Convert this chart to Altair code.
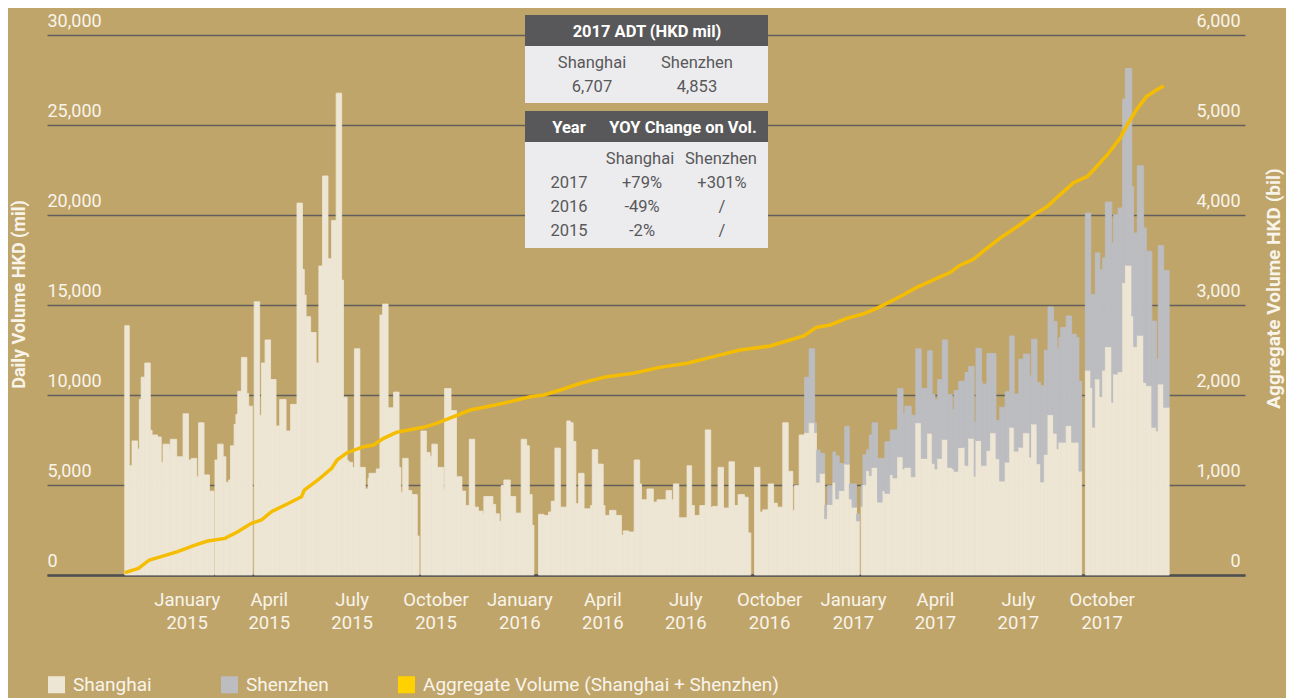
import altair as alt
import pandas as pd

BASE = pd.Timestamp("2014-11-17")  # first trading day of Stock Connect

# ---- Daily volume bars (HKD mil): start day of each step (days after 17 Nov 2014) ----
bar_start_day = [
    0, 5, 8, 14, 16, 18, 22, 28, 30, 36,
    40, 42, 49, 50, 57, 64, 70, 73, 79, 81,
    87, 93, 98, 99, 102, 108, 111, 114, 116, 120,
    122, 124, 128, 134, 136, 140, 142, 148, 150, 154,
    160, 166, 170, 177, 182, 189, 195, 197, 199, 204,
    210, 213, 217, 223, 227, 232, 238, 240, 244, 246,
    250, 252, 258, 264, 267, 268, 276, 280, 283, 289,
    295, 301, 303, 305, 311, 315, 321, 323, 325, 331,
    335, 337, 343, 350, 351, 358, 364, 370, 374, 378,
    384, 388, 393, 394, 404, 407, 411, 413, 416, 423,
    429, 435, 441, 444, 447, 449, 454, 460, 465, 468,
    472, 478, 485, 489, 492, 495, 498, 504, 511, 513,
    519, 525, 527, 532, 539, 545, 547, 553, 559, 565,
    567, 573, 580, 584, 594, 600, 602, 608, 617, 622,
    625, 631, 637, 643, 645, 651, 657, 663, 669, 673,
    680, 684, 687, 691, 697, 700, 706, 712, 716, 722,
    728, 733, 735, 740, 746, 751, 757, 759, 763, 768,
    771, 777, 780, 784, 790, 795, 798, 803, 806, 808,
    810, 814, 817, 820, 826, 832, 834, 840, 843, 848,
    854, 856, 863, 868, 874, 881, 886, 889, 892, 897,
    903, 908, 910, 915, 921, 922, 926, 932, 934, 940,
    941, 946, 950, 956, 960, 966, 971, 976, 981, 986,
    993, 995, 1001, 1005, 1009, 1013, 1019, 1023, 1025, 1027,
    1033, 1039, 1044, 1047, 1050, 1054, 1060, 1062, 1065, 1070,
    1073, 1076, 1083, 1085, 1090, 1095, 1098, 1105, 1107, 1111,
    1118, 1121, 1127, 1132, 1134, 1140,
]
BAR_END_DAY = 1146

shanghai_mil = [
    13850, 6070, 7450, 7000, 9750, 10990, 11780, 8040, 7780, 7670,
    6260, 7270, 6990, 7540, 6570, 8960, 6390, 6480, 5460, 8460,
    5560, 4660, 0, 6390, 7270, 6570, 5150, 5280, 7180, 8370,
    8920, 10210, 12090, 10080, 9380, 0, 15180, 8870, 11780, 13060,
    10860, 8280, 9750, 8000, 9480, 20660, 16980, 15550, 14350, 13470,
    11780, 17170, 22170, 17570, 19690, 26770, 16380, 9880, 6350, 6260,
    5980, 12570, 5980, 4780, 5370, 5650, 5890, 14440, 15050, 9290,
    10160, 5980, 4600, 6480, 4690, 4470, 2170, 0, 8000, 6810,
    6570, 7270, 5980, 4730, 10360, 9140, 5460, 4660, 3860, 7540,
    3770, 3550, 3370, 4360, 3920, 3400, 2980, 4970, 5280, 4360,
    3440, 7540, 7180, 4470, 2760, 0, 3370, 3310, 3500, 4100,
    7050, 3770, 8560, 8460, 7420, 3960, 5650, 3680, 3860, 6960,
    6160, 3860, 3310, 3590, 3310, 2210, 2450, 2390, 6390, 5060,
    4180, 4780, 4050, 4180, 4690, 4180, 5060, 3180, 6070, 3860,
    3310, 3860, 8060, 3770, 3810, 5980, 3720, 6290, 3860, 4470,
    4320, 2340, 0, 5980, 3500, 3620, 5060, 3990, 3770, 8460,
    5760, 3590, 4970, 7780, 7910, 8460, 7910, 5150, 5650, 3130,
    3920, 5150, 4230, 4690, 6160, 4230, 3770, 3000, 0, 3810,
    5020, 5800, 5520, 5980, 4050, 4690, 4540, 5580, 5390, 6570,
    5890, 5980, 5460, 8460, 6480, 7880, 6200, 5890, 6480, 7540,
    5980, 5900, 5760, 7080, 7100, 6090, 7600, 5480, 7470, 6090,
    6090, 6920, 7900, 6460, 5220, 6270, 8210, 6880, 7100, 7900,
    6550, 8390, 6180, 5170, 6700, 8910, 7880, 7010, 7380, 7380,
    8300, 7380, 7380, 5770, 0, 11380, 10420, 8210, 10890, 9910,
    11380, 12680, 9590, 11160, 11290, 16240, 17210, 14390, 12680, 13320,
    10700, 10520, 8210, 8000, 10610, 9320,
]

# Shenzhen Connect opened Dec 2016; values keyed by step start day (HKD mil)
shenzhen_mil = {
    746: 3075, 751: 4110, 757: 550, 759: 1790, 763: 1100, 768: 730, 771: 1050,
    777: 1690, 780: 2390, 784: 1510, 790: 2100, 795: 830, 798: 1290, 803: 400,
    808: 1160, 810: 1660, 814: 1160, 817: 2260, 820: 2480, 826: 2430, 832: 1790,
    834: 2860, 840: 2480, 843: 2670, 848: 3790, 854: 3070, 856: 3400, 863: 3410,
    868: 4110, 874: 3880, 881: 4580, 886: 3830, 889: 3860, 892: 4380, 897: 5520,
    903: 4050, 908: 3300, 910: 4490, 915: 3680, 921: 3690, 922: 5160, 926: 3990,
    932: 3010, 934: 5130, 940: 4670, 941: 4520, 946: 5390, 950: 4410, 956: 2120,
    960: 4100, 966: 3910, 971: 5070, 976: 3180, 981: 4890, 986: 4370, 993: 4520,
    995: 4710, 1001: 4520, 1005: 5350, 1009: 5790, 1013: 5980, 1019: 6200,
    1023: 5590, 1025: 5810, 1027: 6370, 1033: 6090, 1039: 6000, 1044: 5810,
    1047: 5000, 1054: 8730, 1060: 5170, 1062: 7380, 1065: 7010, 1070: 7060,
    1073: 6240, 1076: 8040, 1083: 8860, 1085: 8860, 1090: 9100, 1095: 10200,
    1098: 10930, 1105: 7200, 1107: 6320, 1111: 9410, 1118: 8580, 1121: 7470,
    1127: 5900, 1132: 4000, 1134: 7690, 1140: 7600,
}

# ---- Aggregate volume line (HKD bil) ----
agg_day = [
    0, 15, 27, 40, 58, 77, 91, 110, 124, 139,
    150, 161, 176, 194, 197, 212, 227, 233, 244, 262,
    273, 284, 298, 317, 328, 342, 361, 379, 401, 423,
    445, 460, 478, 500, 529, 558, 587, 617, 646, 675,
    690, 708, 730, 745, 759, 774, 792, 810, 825, 840,
    854, 869, 891, 906, 916, 931, 946, 960, 979, 997,
    1012, 1026, 1041, 1056, 1063, 1078, 1092, 1103, 1110, 1121,
    1132, 1140,
]
agg_bil = [
    26, 74, 167, 204, 259, 333, 378, 407, 481, 574,
    611, 704, 778, 870, 944, 1056, 1185, 1278, 1359, 1426,
    1444, 1519, 1585, 1622, 1641, 1685, 1759, 1833, 1878, 1926,
    1981, 2000, 2056, 2130, 2204, 2241, 2307, 2352, 2426, 2500,
    2519, 2544, 2611, 2656, 2752, 2778, 2852, 2900, 2963, 3037,
    3111, 3196, 3296, 3363, 3440, 3507, 3630, 3741, 3870, 4000,
    4093, 4222, 4359, 4426, 4500, 4667, 4852, 5056, 5167, 5315,
    5389, 5433,
]

series_names = ["Shanghai", "Shenzhen", "Aggregate Volume (Shanghai + Shenzhen)"]
series_colors = ["#EEE6D4", "#BCBDC1", "#FFD100"]
LINE_COLOR = "#F5BD00"

left_ticks = [0, 5000, 10000, 15000, 20000, 25000, 30000]
right_ticks = [0, 1000, 2000, 3000, 4000, 5000, 6000]
x_tick_months = [(2015, 1), (2015, 4), (2015, 7), (2015, 10),
                 (2016, 1), (2016, 4), (2016, 7), (2016, 10),
                 (2017, 1), (2017, 4), (2017, 7), (2017, 10)]

# table texts
adt_title = "2017 ADT (HKD mil)"
adt_markets = ["Shanghai", "Shenzhen"]
adt_values = ["6,707", "4,853"]
yoy_header = ["Year", "YOY Change on Vol."]
yoy_years = ["2017", "2016", "2015"]
yoy_shanghai = ["+79%", "-49%", "-2%"]
yoy_shenzhen = ["+301%", "/", "/"]

# ---------------- build tables ----------------
assert len(bar_start_day) == len(shanghai_mil)
ends = bar_start_day[1:] + [BAR_END_DAY]
rows = []
for d0, d1, sh in zip(bar_start_day, ends, shanghai_mil):
    sz = shenzhen_mil.get(d0, 0)
    t0 = BASE + pd.Timedelta(days=d0)
    t1 = BASE + pd.Timedelta(days=d1)
    if sh > 0:
        rows.append({"start": t0, "end": t1, "series": "Shanghai", "y0": 0, "y1": sh})
    if sz > 0:
        rows.append({"start": t0, "end": t1, "series": "Shenzhen", "y0": sh, "y1": sh + sz})
bars_df = pd.DataFrame(rows)

line_df = pd.DataFrame({
    "start": [BASE + pd.Timedelta(days=d) for d in agg_day],
    "agg": agg_bil,
})

TXT = "#F8F4EA"
FONT = "Roboto"

x_scale = alt.Scale(domain=[alt.DateTime(year=2014, month=8, date=23, hours=16, minutes=48),
                            alt.DateTime(year=2018, month=3, date=30, hours=5)])

x_axis = alt.Axis(
    values=[alt.DateTime(year=y, month=m, date=24) for y, m in x_tick_months],
    labelExpr="[timeFormat(datum.value, '%B'), timeFormat(datum.value, '%Y')]",
    grid=False, ticks=False, tickSize=0, domain=True, domainColor="#4F4F4F", domainWidth=2.5,
    labelFontSize=18.5, labelColor=TXT, labelPadding=15, labelLineHeight=23,
    labelBaseline="top", labelAlign="center", labelOverlap=False, labelFlush=False,
    labelBound=False, title=None,
)

left_axis = alt.Axis(
    values=left_ticks, labelExpr="format(datum.value, ',')", orient="left",
    domain=False, ticks=False, tickSize=0,
    grid=True, gridColor="#605F5C", gridWidth=1.5,
    labelAlign="left", labelBaseline="alphabetic", labelPadding=0, labelOffset=-9,
    labelFontSize=18, labelColor=TXT, labelFlush=False, labelOverlap=False,
    title="Daily Volume HKD (mil)", titleFontSize=18, titleFontWeight="bold", titleColor=TXT,
    titleX=-28, titleY=259, titleAngle=270, titleBaseline="middle", titleAlign="center",
)

right_axis = alt.Axis(
    values=right_ticks, labelExpr="format(datum.value, ',')", orient="right",
    domain=False, ticks=False, tickSize=0,
    grid=False, labelAlign="right", labelBaseline="alphabetic", labelPadding=-5, labelOffset=-9,
    labelFontSize=18, labelColor=TXT, labelFlush=False, labelOverlap=False,
    title="Aggregate Volume HKD (bil)", titleFontSize=19, titleFontWeight="bold", titleColor=TXT,
    titleX=28, titleY=253, titleAngle=270, titleBaseline="middle", titleAlign="center",
)

color_scale = alt.Scale(domain=series_names, range=series_colors)

bars = alt.Chart(bars_df).mark_bar(opacity=1, strokeWidth=0.8).encode(
    x=alt.X("start:T", scale=x_scale, axis=x_axis),
    x2="end:T",
    y=alt.Y("y1:Q", scale=alt.Scale(domain=[0, 30000], nice=False), axis=left_axis),
    y2="y0:Q",
    color=alt.Color(
        "series:N",
        scale=color_scale,
        legend=alt.Legend(
            orient="none", legendX=0, legendY=640, direction="horizontal", title=None,
            symbolType="square", symbolSize=289, symbolStrokeWidth=0, symbolOpacity=1,
            labelFontSize=19, labelColor=TXT, labelFont=FONT, labelOffset=7,
            labelLimit=600, columnPadding=68, padding=0,
        ),
    ),
    stroke=alt.Stroke("series:N", scale=color_scale, legend=None),
)

line = alt.Chart(line_df).mark_line(color=LINE_COLOR, strokeWidth=3.5).encode(
    x=alt.X("start:T", scale=x_scale, axis=x_axis),
    y=alt.Y("agg:Q", scale=alt.Scale(domain=[0, 6000], nice=False), axis=right_axis),
)

dummy = pd.DataFrame({"k": [0]})
HEAD = "#58585A"
BODY = "#ECECEE"
BODY_TXT = "#58585A"


def box(x1, x2, y1, y2, color):
    return alt.Chart(dummy).mark_rect(color=color).encode(
        x=alt.value(x1), x2=alt.value(x2), y=alt.value(y1), y2=alt.value(y2))


def label(txt, x, y, bold=False, color=BODY_TXT, size=16.5):
    return alt.Chart(dummy).mark_text(
        text=txt, fontSize=size, fontWeight="bold" if bold else "normal", color=color,
        align="center", baseline="alphabetic", font=FONT,
    ).encode(x=alt.value(x), y=alt.value(y))


table_layers = [
    box(478, 721, -20, 11, HEAD),
    box(478, 721, 11, 68, BODY),
    box(478, 721, 76, 107, HEAD),
    box(478, 721, 107, 213, BODY),
    label(adt_title, 600, 1.7, bold=True, color="#FFFFFF"),
    label(adt_markets[0], 545, 33.3),
    label(adt_markets[1], 650, 33.3),
    label(adt_values[0], 545, 56.7),
    label(adt_values[1], 650, 56.7),
    label(yoy_header[0], 522, 97.7, bold=True, color="#FFFFFF"),
    label(yoy_header[1], 636, 97.7, bold=True, color="#FFFFFF"),
    label(adt_markets[0], 593, 129),
    label(adt_markets[1], 674, 129),
]
for i, yr in enumerate(yoy_years):
    yy = 153.3 + 24 * i
    table_layers.append(label(yr, 522, yy))
    table_layers.append(label(yoy_shanghai[i], 595, yy))
    table_layers.append(label(yoy_shenzhen[i], 675, yy))

chart = alt.layer(bars, line, *table_layers).resolve_scale(
    y="independent"
).properties(
    width=1198, height=540,
    autosize=alt.AutoSizeParams(type="none"),
    padding={"left": 39, "top": 27, "right": 41, "bottom": 123},
).configure(
    background="#C0A56B", font=FONT,
).configure_view(stroke=None)

chart.save("out.html", embed_options={"renderer": "svg", "actions": False})
